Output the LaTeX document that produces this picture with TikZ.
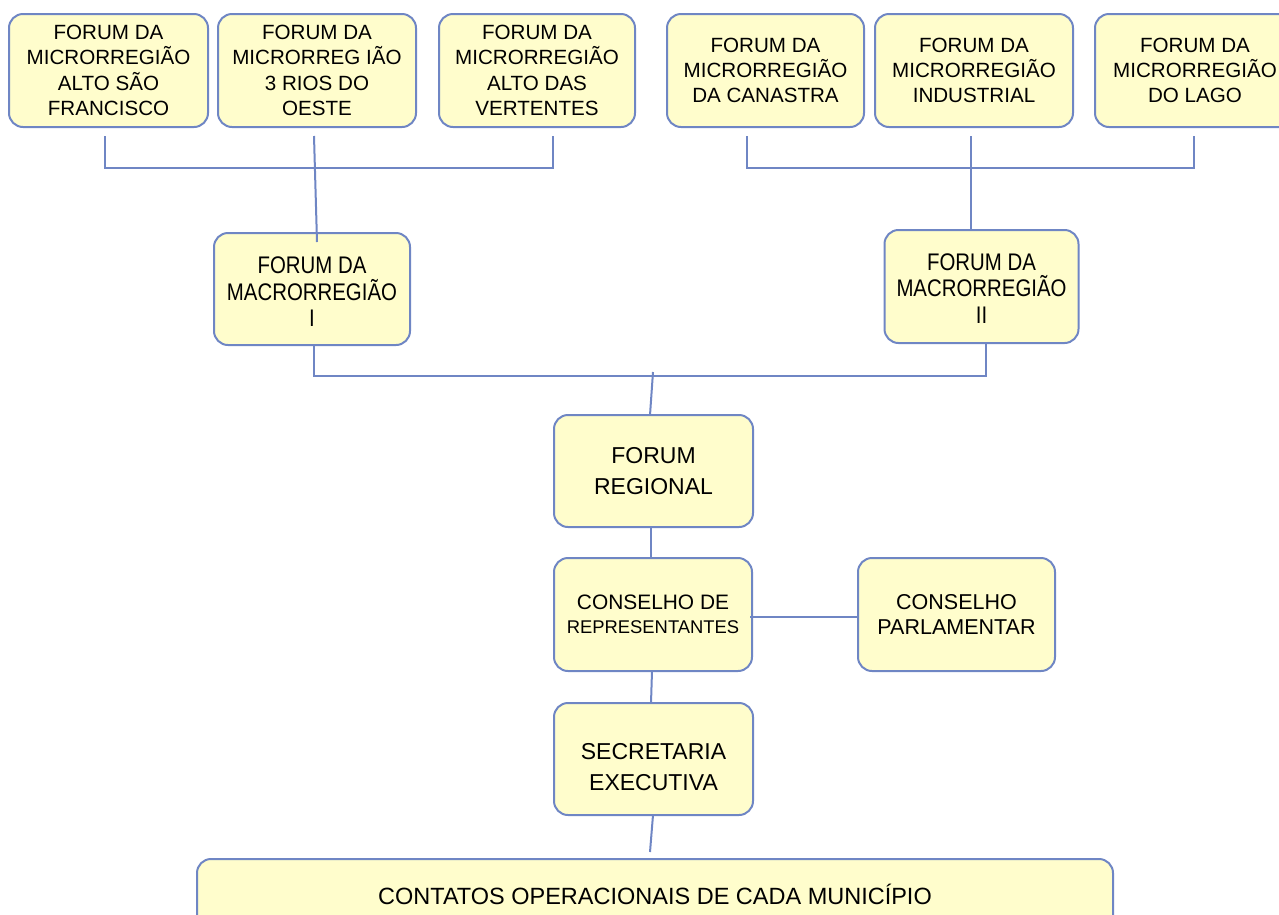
\documentclass[tikz,border=0pt]{standalone}
\usepackage{fontspec}
\setmainfont{Liberation Sans}
\newfontfamily\narrowsans{Liberation Sans}[FakeStretch=0.85]
\usetikzlibrary{calc}
\definecolor{bordc}{RGB}{111,134,196}
\definecolor{fillc}{RGB}{255,253,204}
\tikzset{
  orgbox/.style={draw=bordc, fill=fillc, line width=2pt, rounded corners=14pt,
    align=center, inner sep=2pt, text=black},
  small/.style={font=\fontsize{20.6}{25.3}\selectfont},
  big/.style={font=\fontsize{23}{31}\selectfont},
  macro/.style={font=\narrowsans\fontsize{24}{26.5}\selectfont},
  conn/.style={draw=bordc, line width=2pt}
}
\begin{document}
\begin{tikzpicture}[x=1pt,y=-1pt]
\useasboundingbox (0,0) rectangle (1279,914);
\clip (0,0) rectangle (1279,914);
% top row left
\node[orgbox, small, minimum width=199pt, minimum height=113pt] (a1) at (108.5,70.5)
  {FORUM DA\\MICRORREGIÃO\\ALTO SÃO\\FRANCISCO};
\node[orgbox, small, minimum width=198pt, minimum height=113pt] (a2) at (317,70.5)
  {FORUM DA\\MICRORREG IÃO\\3 RIOS DO\\OESTE};
\node[orgbox, small, minimum width=196pt, minimum height=113pt] (a3) at (537,70.5)
  {FORUM DA\\MICRORREGIÃO\\ALTO DAS\\VERTENTES};
% top row right
\node[orgbox, small, minimum width=197pt, minimum height=113pt] (b1) at (765.5,70.5)
  {FORUM DA\\MICRORREGIÃO\\DA CANASTRA};
\node[orgbox, small, minimum width=198pt, minimum height=113pt] (b2) at (974,70.5)
  {FORUM DA\\MICRORREGIÃO\\INDUSTRIAL};
\node[orgbox, small, minimum width=200pt, minimum height=113pt] (b3) at (1195,70.5)
  {FORUM DA\\MICRORREGIÃO\\DO LAGO};
% macro
\node[orgbox, macro, minimum width=196pt, minimum height=112pt] (m1) at (312,289)
  {\parbox[c][100pt][c]{186pt}{\centering\vspace*{6pt}FORUM DA\\MACRORREGIÃO\\I}};
\node[orgbox, macro, minimum width=194pt, minimum height=113pt] (m2) at (981.5,286.5)
  {\parbox[c][100pt][c]{186pt}{\centering\vspace*{4pt}FORUM DA\\MACRORREGIÃO\\II}};
% center column
\node[orgbox, big, minimum width=199pt, minimum height=112pt] (fr) at (653.5,471)
  {FORUM\\REGIONAL};
\node[orgbox, font=\fontsize{20.9}{24}\selectfont, minimum width=198pt, minimum height=113pt] (cr) at (653,614.5)
  {CONSELHO DE\\{\fontsize{18.4}{24}\selectfont REPRESENTANTES}};
\node[orgbox, font=\fontsize{21.5}{25}\selectfont, minimum width=197pt, minimum height=113pt] (cp) at (956.5,614.5)
  {CONSELHO\\PARLAMENTAR};
\node[orgbox, big, minimum width=199pt, minimum height=112pt] (se) at (653.5,759)
  {\parbox[c][100pt][c]{190pt}{\centering\vspace*{16pt}SECRETARIA\\EXECUTIVA}};
\node[orgbox, font=\fontsize{23.5}{28}\selectfont, minimum width=916pt, minimum height=90pt,
  anchor=north, text depth=50pt, text height=43pt] (co) at (655,858)
  {CONTATOS OPERACIONAIS DE CADA MUNICÍPIO};
% connector points
\coordinate (a1s) at (105,136);
\coordinate (a2s) at (314,136);
\coordinate (a3s) at (553,136);
\coordinate (b1s) at (747,136);
\coordinate (b2s) at (971,136);
\coordinate (b3s) at (1194,136);
\coordinate (m1t) at (317,242);
\coordinate (m2t) at (971,231);
\coordinate (mbus) at (653,372);
\coordinate (frt) at (650,415);
% top buses
\draw[conn] (a1s) |- (553,168) -- (a3s);
\draw[conn] (a2s) -- (m1t);
\draw[conn] (b1s) |- (1194,168) -- (b3s);
\draw[conn] (b2s) -- (m2t);
% macro bus
\draw[conn] (314,345) |- (986,376) -- (986,343);
\draw[conn] (mbus) -- (frt);
% center chain
\draw[conn] (651,527) -- (651,558);
\draw[conn] (750,617) -- (cp.west |- 0,617);
\draw[conn] (652,671) -- (651,703);
\draw[conn] (653,815) -- (650,852);
\end{tikzpicture}
\end{document}
